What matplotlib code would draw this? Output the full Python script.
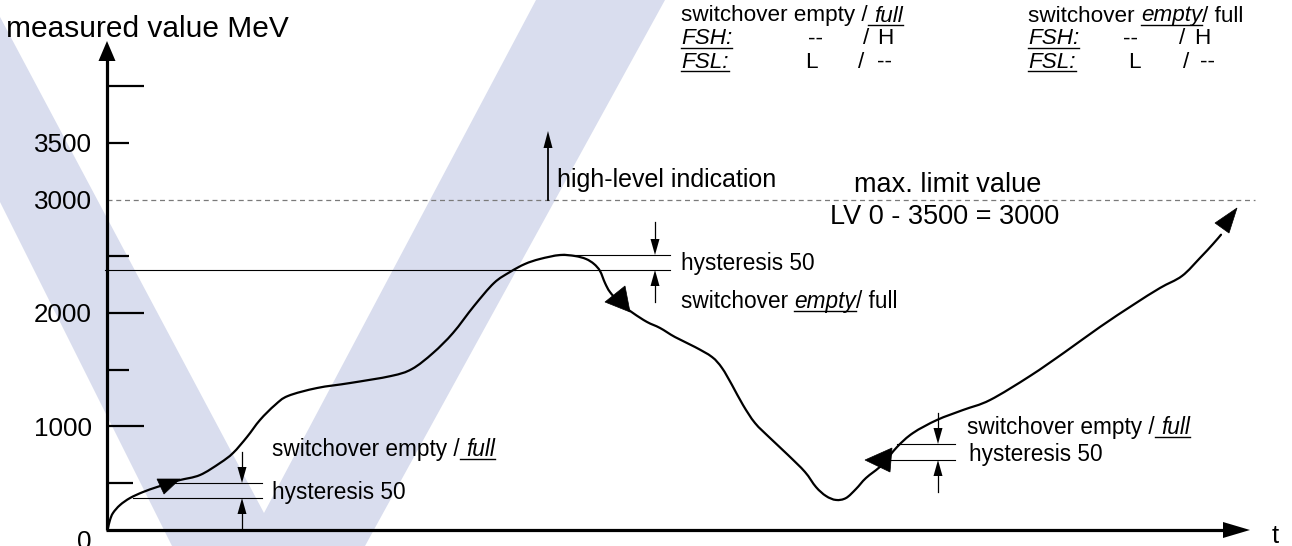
import matplotlib
matplotlib.use('Agg')
import matplotlib.pyplot as plt
import numpy as np
from matplotlib.transforms import Affine2D, offset_copy
from matplotlib.patches import Polygon, PathPatch
from matplotlib.path import Path

# ---------------- data ----------------
tick_values = [500, 1000, 1500, 2000, 2500, 3500, 4000]
tick_is_long = [False, True, False, True, False, False, True]
label_values = [0, 1000, 2000, 3000, 3500]
label_texts = ['0', '1000', '2000', '3000', '3500']
limit_value = 3000

# measured value over time (t in arbitrary units, value in MeV)
curve_t = [1, 3, 6, 13, 23, 36, 50, 63, 73, 93, 113, 126, 140, 153, 168, 181,
           210, 243, 284, 305, 326, 346, 367, 387, 403, 418, 433, 453, 468,
           479, 487, 493, 498, 503, 513, 526, 540, 553, 568, 588, 605, 615,
           625, 636, 648, 663, 681, 698, 709, 719, 729, 739, 749, 759, 775,
           790, 806, 830, 856, 883, 923, 958, 993, 1026, 1053, 1075, 1093,
           1106, 1114]
curve_v = [101, 172, 234, 304, 366, 419, 463, 499, 525, 569, 675, 763, 905,
           1055, 1187, 1267, 1337, 1381, 1443, 1505, 1646, 1823, 2061, 2264,
           2361, 2432, 2476, 2511, 2502, 2476, 2432, 2370, 2264, 2184, 2087,
           1999, 1920, 1867, 1787, 1699, 1611, 1514, 1364, 1187, 1028, 896,
           746, 596, 463, 384, 349, 366, 446, 543, 658, 816, 940, 1055, 1143,
           1231, 1443, 1655, 1876, 2070, 2220, 2326, 2485, 2608, 2690]

# ---------------- layout ----------------
W, H = 1292, 546
AXIS_X = 107          # pixel column of value axis
ZERO_PY = 539.5       # pixel row of value 0
PXMEV = 0.1133        # pixels per MeV
FONT = 'Liberation Sans'
plt.rcParams['font.family'] = [FONT, 'DejaVu Sans']

fig = plt.figure(figsize=(W / 100, H / 100), dpi=100)
fig.patch.set_facecolor('white')
ax = fig.add_axes([0, 0, 1, 1])
ax.set_axis_off()
ax.set_xlim(-AXIS_X, W - AXIS_X)
ax.set_ylim((ZERO_PY - H) / PXMEV, ZERO_PY / PXMEV)

PXT = Affine2D().scale(1, -1).translate(0, H)   # top-left pixel coords
r = fig.canvas.get_renderer()


def vpx(py):
    return (ZERO_PY - py) / PXMEV


# background V watermark
ax.add_patch(Polygon([(-101, 0), (-9, 0), (264, 513), (536, 0), (665, 0),
                      (365, 546), (172, 546)], closed=True,
                     facecolor='#d9ddee', edgecolor='none', transform=PXT,
                     zorder=0))

# axes
axis_v = vpx(530)
ax.plot([0, 0], [axis_v, vpx(58)], color='black', lw=2.3, zorder=3,
        solid_capstyle='butt')
ax.add_patch(Polygon([(107, 41), (98.5, 61), (115.5, 61)], closed=True,
                     facecolor='black', edgecolor='none', transform=PXT, zorder=3))
ax.plot([-1, 1224 - AXIS_X], [axis_v, axis_v], color='black', lw=2.3,
        zorder=3, solid_capstyle='butt')
ax.add_patch(Polygon([(1250, 530), (1223, 522), (1223, 538)], closed=True,
                     facecolor='black', edgecolor='none', transform=PXT, zorder=3))
ax.text(1272, 543, 't', transform=PXT, fontsize=18.5, ha='left', va='baseline')

# ticks
for v, lg in zip(tick_values, tick_is_long):
    ln = 37 if lg else (26 if v == 500 else 22)
    ax.plot([0, ln], [v, v], color='black', lw=1.6, zorder=3,
            solid_capstyle='butt')

lab_tr = offset_copy(ax.transData, fig=fig, x=0, y=-9.3, units='dots')
for v, s in zip(label_values, label_texts):
    ax.text(92 - AXIS_X, v, s, transform=lab_tr, fontsize=18.7, ha='right',
            va='baseline')

ax.text(6, 37, 'measured value MeV', transform=PXT, fontsize=21.5,
        ha='left', va='baseline')

# limit line
ax.plot([0, 1255 - AXIS_X], [limit_value, limit_value], color='#7a7a7a',
        lw=0.9, ls=(0, (4, 3)), zorder=2)

# high-level indication
ax.plot([548, 548], [200, 146], color='black', lw=1.3, transform=PXT, zorder=3)
ax.add_patch(Polygon([(548, 131), (543.5, 148), (552.5, 148)], closed=True,
                     facecolor='black', edgecolor='none', transform=PXT, zorder=3))
ax.text(557, 187, 'high-level indication', transform=PXT, fontsize=18,
        ha='left', va='baseline')
ax.text(948, 192, 'max. limit value', transform=PXT, fontsize=19.5,
        ha='center', va='baseline')
ax.text(945, 224, 'LV 0 - 3500 = 3000', transform=PXT, fontsize=19.5,
        ha='center', va='baseline')

# curve: smooth path (Catmull-Rom as cubic Bezier) through the read points
pts = np.column_stack([curve_t, curve_v]).astype(float)
verts = [tuple(pts[0])]
codes = [Path.MOVETO]
n = len(pts)
for i in range(n - 1):
    p0 = pts[max(i - 1, 0)]
    p1 = pts[i]
    p2 = pts[i + 1]
    p3 = pts[min(i + 2, n - 1)]
    c1 = p1 + (p2 - p0) / 6.0
    c2 = p2 - (p3 - p1) / 6.0
    verts += [tuple(c1), tuple(c2), tuple(p2)]
    codes += [Path.CURVE4] * 3
ax.add_patch(PathPatch(Path(verts, codes), facecolor='none',
                       edgecolor='black', lw=1.6, zorder=4,
                       capstyle='round', joinstyle='round'))

# direction markers on the curve
for tri in [[(157, 479), (180, 479), (164, 494)],
            [(605, 302), (625, 286), (630, 312)],
            [(865, 460), (892, 448), (890, 472)],
            [(1237, 208), (1215, 223), (1229, 233)]]:
    ax.add_patch(Polygon(tri, closed=True, facecolor='black',
                         edgecolor='black', lw=0.5, transform=PXT, zorder=5))


def hline(x0, x1, y):
    ax.plot([x0, x1], [y, y], color='black', lw=0.8, transform=PXT, zorder=3)


def varrow(x, y0, y1):
    # arrow from y0 to tip at y1 (pixel rows)
    d = 1 if y1 > y0 else -1
    base = y1 - d * 16
    ax.plot([x, x], [y0, base], color='black', lw=0.9, transform=PXT, zorder=3)
    ax.add_patch(Polygon([(x, y1), (x - 4.5, base), (x + 4.5, base)],
                         closed=True, facecolor='black', edgecolor='none',
                         transform=PXT, zorder=3))


def width(txt, size, italic=False):
    t = ax.text(0, 0, txt, fontsize=size, style='italic' if italic else 'normal',
                transform=PXT)
    w = t.get_window_extent(r).width
    t.remove()
    return w


def rich(x, yb, parts, size):
    sp = width('n n', size) - width('nn', size)
    cur = x
    for txt, italic, ul in parts:
        start = cur
        n_lead = len(txt) - len(txt.lstrip(' '))
        cur += n_lead * sp
        txt = txt.lstrip(' ')
        t = ax.text(cur, yb, txt, transform=PXT, fontsize=size,
                    style='italic' if italic else 'normal', ha='left',
                    va='baseline', zorder=6)
        w = t.get_window_extent(r).width
        if ul:
            ax.plot([start, cur + w], [yb + 3, yb + 3], color='black', lw=1.0,
                    transform=PXT, zorder=6)
        cur += w


SZ = 16.3
full_ul = [('switchover empty /', False, False), (' full', True, True)]
empty_ul = [('switchover ', False, False), ('empty', True, True),
            ('/ full', False, False)]

# hysteresis at the bottom left
hline(170, 262, 483)
hline(133, 262, 498)
varrow(242, 452, 483)
varrow(242, 530, 498)
rich(272, 456, full_ul, SZ)
ax.text(272, 499, 'hysteresis 50', transform=PXT, fontsize=SZ, ha='left',
        va='baseline')

# hysteresis in the middle
hline(553, 670, 255)
hline(105, 670, 270)
varrow(655, 222, 255)
varrow(655, 302, 270)
ax.text(681, 270, 'hysteresis 50', transform=PXT, fontsize=SZ, ha='left',
        va='baseline')
rich(681, 308, empty_ul, SZ)

# hysteresis on the right
hline(897, 955, 444)
hline(890, 955, 460)
varrow(938, 413, 444)
varrow(938, 492, 460)
rich(967, 434, full_ul, SZ)
ax.text(969, 461, 'hysteresis 50', transform=PXT, fontsize=SZ, ha='left',
        va='baseline')

# legend blocks top right
TS = 16.2
for bx, parts, cols_h, cols_l in [
        (681, full_ul, (127, 182, 196), (124, 177, 196)),
        (1028, empty_ul, (95, 151, 166), (100, 155, 172))]:
    rich(bx, 21.5, parts, TS)
    rich(bx, 44.5, [('FSH:', True, True)], TS)
    rich(bx, 67.5, [('FSL:', True, True)], TS)
    for txt, dx in zip(['--', '/', 'H'], cols_h):
        ax.text(bx + dx, 44.5, txt, transform=PXT, fontsize=TS, ha='left',
                va='baseline')
    for txt, dx in zip(['L', '/', '--'], cols_l):
        ax.text(bx + dx, 67.5, txt, transform=PXT, fontsize=TS, ha='left',
                va='baseline')

fig.savefig('out.png', dpi=100, facecolor='white')
